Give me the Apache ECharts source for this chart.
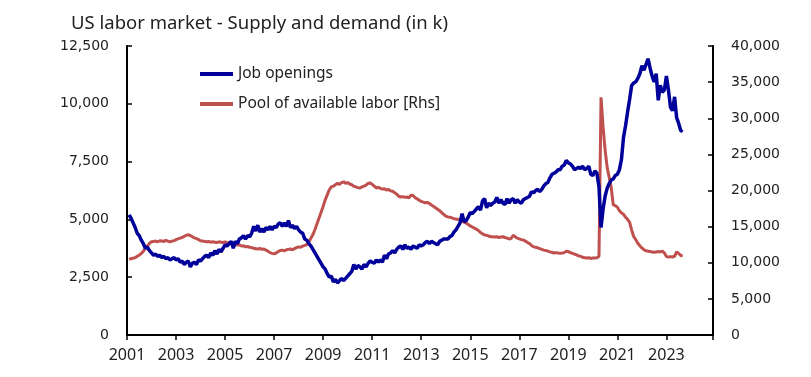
<!DOCTYPE html>
<html>
<head>
<meta charset="utf-8">
<script src="https://cdn.jsdelivr.net/npm/echarts@6/dist/echarts.min.js"></script>
<style>
  html,body{margin:0;padding:0;background:#fff;}
  #chart{width:811px;height:377px;}
</style>
</head>
<body>
<div id="chart"></div>
<script>
// monthly data, Jan 2001 .. Aug 2023 (thousands)
const startYear=2001;
const xTicks=[2001,2003,2005,2007,2009,2011,2013,2015,2017,2019,2021,2023];

// Job openings (left axis)
const jobOpenings=[
  5200,5050,4850,4650,4400,4300,4100,3950,3750,3800,3650,3550, //2001
  3450,3500,3400,3450,3350,3400,3300,3350,3250,3300,3350,3250, //2002
  3300,3150,3200,3050,3150,3200,2950,3100,3150,3050,3250,3200, //2003
  3300,3400,3450,3350,3550,3450,3650,3500,3700,3600,3750,3900, //2004
  3850,3950,4050,3750,4050,3950,4150,4200,4300,4150,4300,4250, //2005
  4400,4700,4500,4750,4450,4600,4450,4650,4550,4700,4550,4700, //2006
  4650,4800,4850,4700,4850,4700,4950,4650,4750,4600,4700,4550, //2007
  4450,4400,4150,4100,3950,3850,3700,3550,3400,3250,3100,2950, //2008
  2850,2650,2500,2550,2300,2400,2250,2350,2450,2350,2450,2550, //2009
  2650,2750,3050,2850,3000,2950,2850,3050,2950,3100,3200,3150, //2010
  3100,3250,3150,3250,3150,3450,3300,3500,3550,3650,3550,3700, //2011
  3800,3850,3700,3900,3750,3800,3700,3850,3800,3750,3900,3850, //2012
  3900,4000,4050,3950,4050,4000,3950,3900,4050,4100,4150,4150, //2013
  4150,4250,4300,4450,4550,4700,4850,5250,4900,4950,5100,5300, //2014
  5250,5350,5450,5550,5400,5800,5900,5500,5700,5600,5700,5750, //2015
  5950,5700,5850,5700,5650,5900,5700,5850,5900,5700,5850,5750, //2016
  5700,5850,5900,5950,6000,6200,6150,6250,6300,6200,6300,6450, //2017
  6550,6600,6800,6950,7000,7050,7150,7150,7300,7350,7550,7450, //2018
  7400,7300,7150,7200,7250,7200,7300,7150,7200,7300,6950,6900, //2019
  7100,7000,6400,4650,5450,6000,6350,6550,6700,6750,6900,6950, //2020
  7150,7600,8550,9050,9650,10200,10800,10900,10950,11100,11300,11650, //2021
  11450,11700,11950,11550,11200,10950,11300,10150,10800,10500,10600,11200, //2022
  10600,9850,9700,10300,9400,9150,8850,8800 //2023
];

// Pool of available labor (right axis)
const laborPool=[
  10500,10550,10650,10700,10900,11050,11300,11600,12000,12300,12700,12900, //2001
  12950,13000,12900,13050,13000,12950,13100,13000,12900,13000,13050,13200, //2002
  13300,13400,13500,13650,13800,13900,13750,13600,13450,13350,13200,13050, //2003
  13000,12950,12900,12950,12850,12900,12850,12800,12900,12850,12800,12900, //2004
  12750,12800,12700,12600,12500,12450,12500,12300,12350,12200,12250,12150, //2005
  12100,12000,11950,11900,12000,11850,11900,11750,11600,11400,11300,11250, //2006
  11350,11550,11700,11750,11650,11800,11850,11900,11800,11950,12100,12200, //2007
  12150,12300,12400,12500,12900,13400,13900,14600,15400,16200,17000,17800, //2008
  18700,19400,20100,20500,20600,20800,21000,20850,21100,21200,21000,21100, //2009
  20900,20800,20600,20500,20400,20350,20500,20600,20750,21000,21050,20850, //2010
  20600,20350,20450,20300,20200,20250,20050,20150,19950,19900,19700,19500, //2011
  19200,19100,19150,19050,19100,19000,19350,19300,19000,18850,18650,18500, //2012
  18400,18300,18350,18200,18000,17800,17600,17400,17200,16950,16700,16450, //2013
  16350,16300,16200,16100,16050,16000,15900,15750,15600,15500,15300,15100, //2014
  14950,14800,14650,14450,14200,14000,13850,13800,13700,13600,13600,13550, //2015
  13600,13500,13550,13600,13500,13400,13300,13350,13800,13600,13400,13300, //2016
  13200,13150,13000,12800,12650,12400,12200,12150,12050,11950,11850,11750, //2017
  11700,11600,11500,11450,11350,11400,11350,11300,11350,11400,11600,11550, //2018
  11400,11300,11200,11100,10950,10900,10750,10700,10650,10700,10600,10650, //2019
  10650,10700,10900,32900,28800,25600,23200,21800,20400,18000,17900,17700, //2020
  17200,16900,16700,16300,16000,15600,14500,13600,13200,12700,12350,12050, //2021
  11800,11650,11600,11550,11500,11450,11500,11550,11500,11600,11350,10850, //2022
  10800,10850,10800,10900,11500,11300,11000,10950 //2023
];

// points sit at month end
function toPairs(values){
  return values.map((v,i)=>[startYear+(i+1)/12,v]);
}

const fmt=v=>v.toLocaleString('en-US');

const chart=echarts.init(document.getElementById('chart'),null,{renderer:'canvas'});
chart.setOption({
  animation:false,
  backgroundColor:'#fff',
  title:{
    text:'US labor market - Supply and demand (in k)',
    left:66,
    top:9,
    textStyle:{fontFamily:'Noto Sans',fontSize:18.5,fontWeight:'normal',color:'#222'}
  },
  legend:{
    orient:'vertical',
    left:195,
    top:61,
    itemWidth:33,
    itemHeight:4,
    itemGap:14,
    icon:'rect',
    data:['Job openings','Pool of available labor [Rhs]'],
    textStyle:{fontFamily:'Noto Sans',fontSize:15.5,color:'#222'}
  },
  grid:{left:127,right:98,top:46,bottom:42,containLabel:false},
  xAxis:{
    type:'value',
    min:2001,
    max:2024.9,
    interval:2,
    axisLine:{lineStyle:{color:'#000',width:2}},
    axisTick:{length:5,lineStyle:{color:'#000',width:1.5}},
    axisLabel:{
      margin:12,
      fontFamily:'Noto Sans',fontSize:16,color:'#222',
      formatter:v=>xTicks.indexOf(v)>=0?String(v):''
    },
    splitLine:{show:false}
  },
  yAxis:[{
    type:'value',
    min:0,max:12500,interval:2500,
    axisLine:{show:true,lineStyle:{color:'#000',width:2}},
    axisTick:{show:true,inside:true,length:5,lineStyle:{color:'#000',width:1.5}},
    axisLabel:{margin:18,fontFamily:'DejaVu Sans',fontSize:14,color:'#222',formatter:fmt},
    splitLine:{show:false}
  },{
    type:'value',
    min:0,max:40000,interval:5000,
    position:'right',
    axisLine:{show:true,lineStyle:{color:'#000',width:2}},
    axisTick:{show:true,inside:true,length:5,lineStyle:{color:'#000',width:1.5}},
    axisLabel:{margin:18,fontFamily:'DejaVu Sans',fontSize:14,color:'#222',formatter:fmt},
    splitLine:{show:false}
  }],
  series:[{
    name:'Pool of available labor [Rhs]',
    type:'line',
    yAxisIndex:1,
    data:toPairs(laborPool),
    showSymbol:false,
    color:'#C0504D',
    lineStyle:{width:3,color:'#C0504D'},
    z:2
  },{
    name:'Job openings',
    type:'line',
    yAxisIndex:0,
    data:toPairs(jobOpenings),
    showSymbol:false,
    color:'#00009A',
    lineStyle:{width:3.5,color:'#00009A'},
    z:3
  }]
});
</script>
</body>
</html>
